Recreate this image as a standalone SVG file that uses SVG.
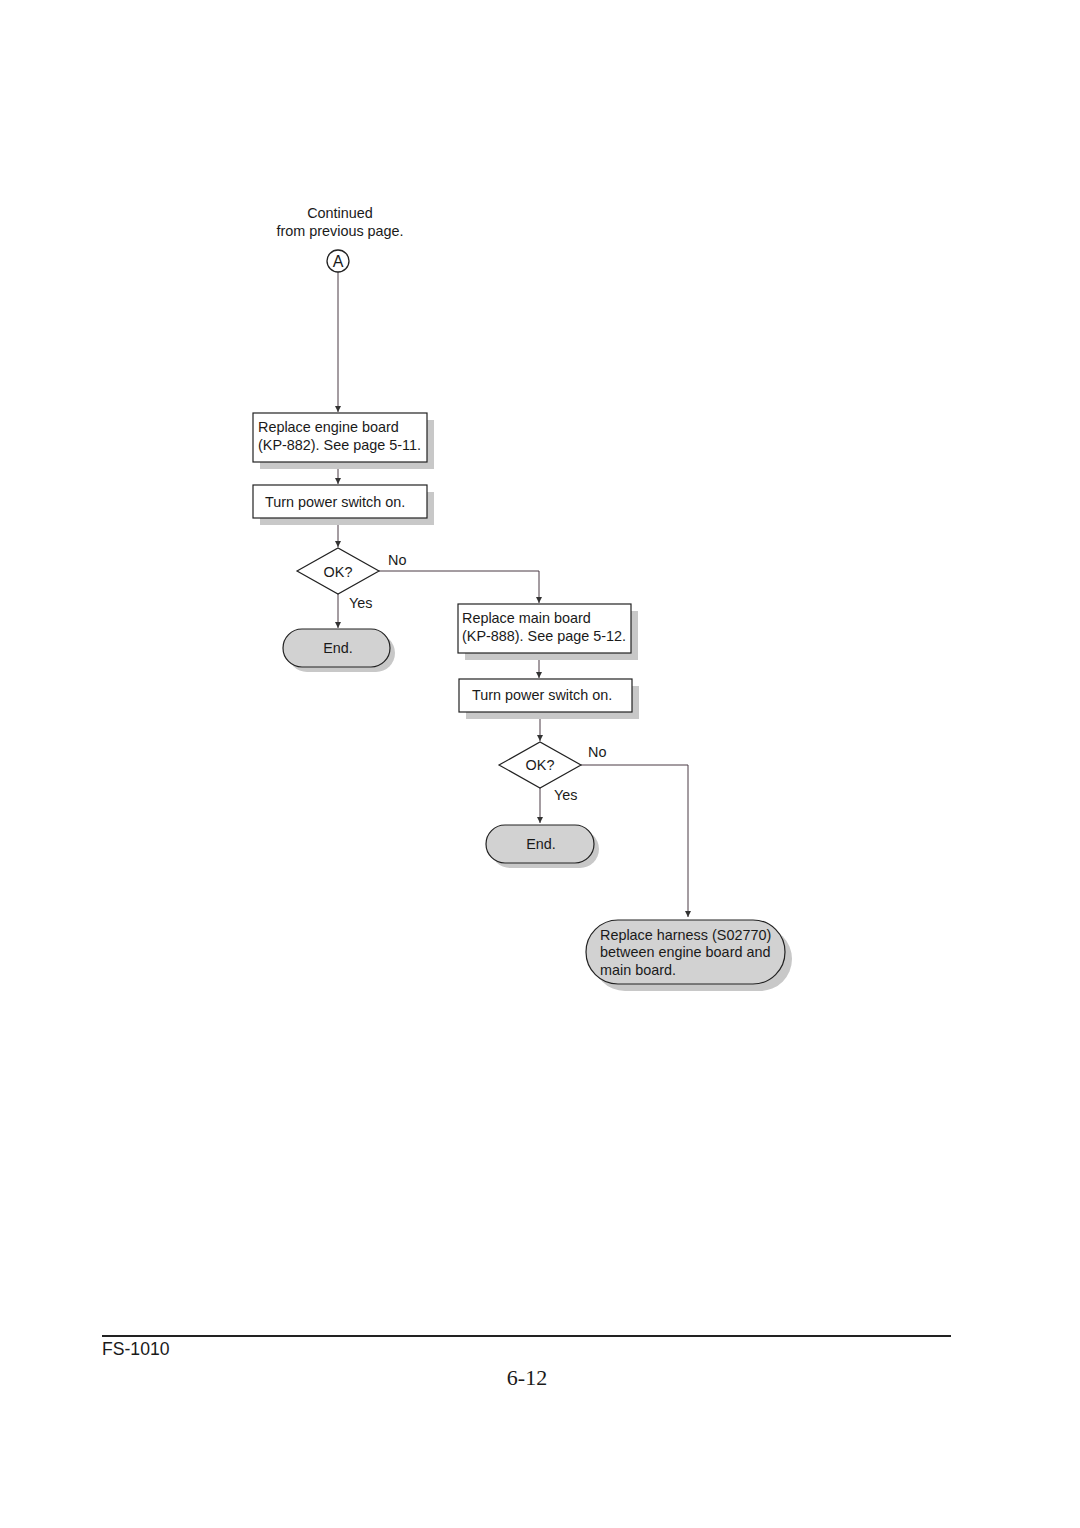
<svg xmlns="http://www.w3.org/2000/svg" width="1080" height="1528" viewBox="0 0 1080 1528">
<style>
text{font-family:"Liberation Sans",Arial,sans-serif;font-size:14.4px;fill:#1a1a1a}
.box{fill:#fff;stroke:#222;stroke-width:1.2}
.sh{fill:#c8c8c8}
.pill{fill:#d2d2d2;stroke:#222;stroke-width:1.2}
.ln{fill:none;stroke:#4a3a44;stroke-width:1}
.c{text-anchor:middle}
</style>
<defs>
<marker id="ah" viewBox="0 0 6 8" refX="6" refY="4" markerWidth="6" markerHeight="8" orient="auto" markerUnits="userSpaceOnUse">
<path d="M0,1 L6,4 L0,7 Z" fill="#333"/>
</marker>
</defs>
<rect width="1080" height="1528" fill="#fff"/>

<g id="connectors">
<line class="ln" x1="338" y1="272" x2="338" y2="412" marker-end="url(#ah)"/>
<line class="ln" x1="338" y1="462" x2="338" y2="484" marker-end="url(#ah)"/>
<line class="ln" x1="338" y1="518" x2="338" y2="547" marker-end="url(#ah)"/>
<polyline class="ln" points="379,571 539,571 539,603" marker-end="url(#ah)"/>
<line class="ln" x1="338" y1="594" x2="338" y2="628" marker-end="url(#ah)"/>
<line class="ln" x1="539" y1="653" x2="539" y2="678" marker-end="url(#ah)"/>
<line class="ln" x1="540" y1="712" x2="540" y2="741" marker-end="url(#ah)"/>
<polyline class="ln" points="581,765 688,765 688,917" marker-end="url(#ah)"/>
<line class="ln" x1="540" y1="788" x2="540" y2="823" marker-end="url(#ah)"/>
<text x="388" y="565">No</text>
<text x="349" y="608">Yes</text>
<text x="588" y="757">No</text>
<text x="554" y="800">Yes</text>
</g>

<g id="start">
<text class="c" x="340" y="218">Continued</text>
<text class="c" x="340" y="236">from previous page.</text>
<circle cx="338" cy="261" r="11" fill="#fff" stroke="#222" stroke-width="1.3"/>
<text class="c" x="338" y="267" style="font-size:16px">A</text>
</g>

<g id="box1">
<rect class="sh" x="260" y="420" width="174" height="49"/>
<rect class="box" x="253" y="413" width="174" height="49"/>
<text x="258" y="432">Replace engine board</text>
<text x="258" y="450">(KP-882). See page 5-11.</text>
</g>

<g id="box2">
<rect class="sh" x="260" y="492" width="174" height="33"/>
<rect class="box" x="253" y="485" width="174" height="33"/>
<text x="265" y="507">Turn power switch on.</text>
</g>

<g id="dec1">
<polygon points="297,571 338,548 379,571 338,594" fill="#fff" stroke="#222" stroke-width="1.2"/>
<text class="c" x="338" y="577">OK?</text>
</g>

<g id="end1">
<rect class="sh" x="288" y="634" width="107" height="38" rx="19"/>
<rect class="pill" x="283" y="629" width="107" height="38" rx="19"/>
<text class="c" x="338" y="653">End.</text>
</g>

<g id="box3">
<rect class="sh" x="465" y="611" width="173" height="49"/>
<rect class="box" x="458" y="604" width="173" height="49"/>
<text x="462" y="623">Replace main board</text>
<text x="462" y="641">(KP-888). See page 5-12.</text>
</g>

<g id="box4">
<rect class="sh" x="466" y="686" width="173" height="33"/>
<rect class="box" x="459" y="679" width="173" height="33"/>
<text x="472" y="700">Turn power switch on.</text>
</g>

<g id="dec2">
<polygon points="499,765 540,742 581,765 540,788" fill="#fff" stroke="#222" stroke-width="1.2"/>
<text class="c" x="540" y="770">OK?</text>
</g>

<g id="end2">
<rect class="sh" x="491" y="830" width="108" height="38" rx="19"/>
<rect class="pill" x="486" y="825" width="108" height="38" rx="19"/>
<text class="c" x="541" y="849">End.</text>
</g>

<g id="harness">
<rect class="sh" x="593" y="927" width="199" height="64" rx="32"/>
<rect class="pill" x="586" y="920" width="199" height="64" rx="32"/>
<text x="600" y="940">Replace harness (S02770)</text>
<text x="600" y="957">between engine board and</text>
<text x="600" y="975">main board.</text>
</g>

<g id="footer">
<line x1="102" y1="1336" x2="951" y2="1336" stroke="#222" stroke-width="2"/>
<text x="102" y="1355" style="font-size:17.6px">FS-1010</text>
<text class="c" x="527" y="1385" style="font-family:'Liberation Serif','Times New Roman',serif;font-size:22px">6-12</text>
</g>
</svg>
